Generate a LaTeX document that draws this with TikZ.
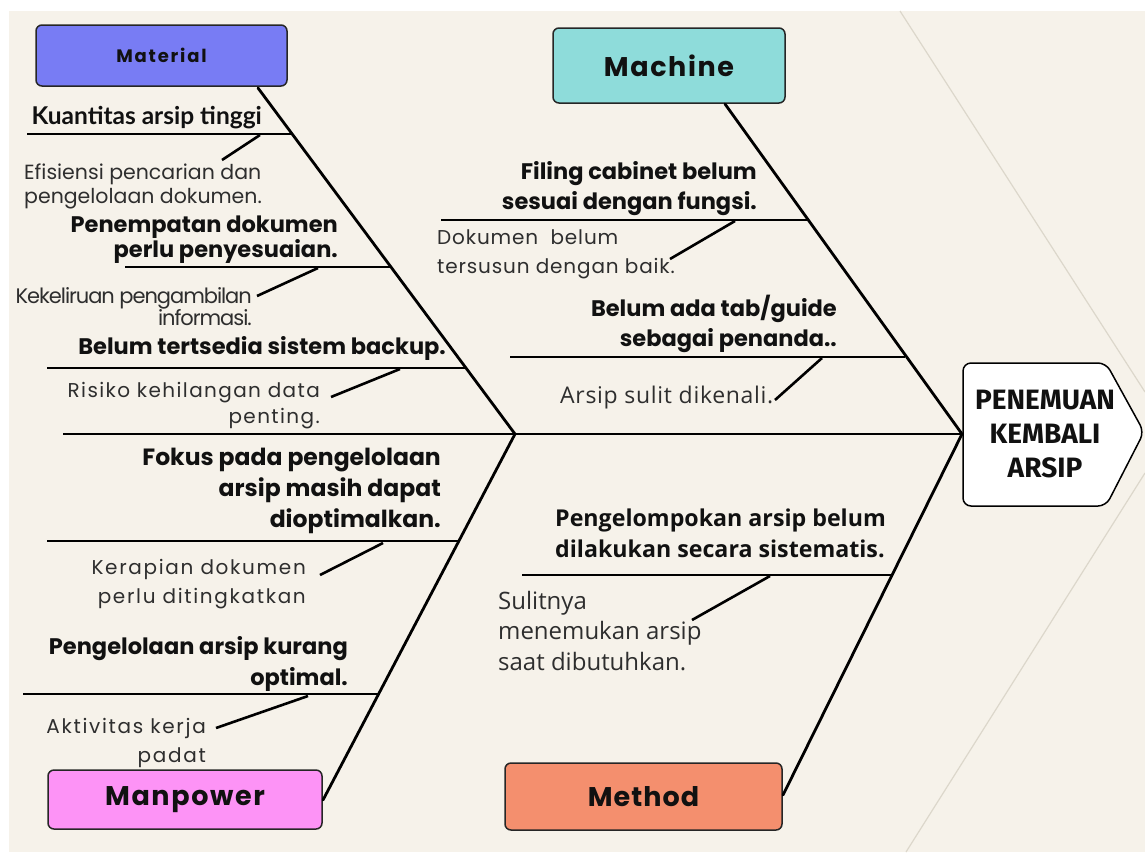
\documentclass[tikz,border=0pt]{standalone}
\usepackage{fontspec}
\setmainfont{Poppins}
\newfontfamily\fira{Fira Sans}
\newfontfamily\lato{Lato}
\newfontfamily\osans{Open Sans}
\usetikzlibrary{calc}
\definecolor{bg}{HTML}{F6F2EA}
\definecolor{matcol}{HTML}{787CF4}
\definecolor{maccol}{HTML}{8EDCDA}
\definecolor{mancol}{HTML}{FD93F6}
\definecolor{metcol}{HTML}{F48F6E}
\definecolor{faint}{HTML}{DCD7CB}
\definecolor{txt}{HTML}{111111}
\definecolor{soft}{HTML}{2E2E2E}
\tikzset{
  catbox/.style={draw=black!85, line width=1.5pt, rounded corners=6pt, text=txt, font=\bfseries},
  bone/.style={line width=2.8pt, line cap=round},
  sub/.style={line width=2.8pt},
  link/.style={line width=2.6pt},
  lbl/.style={inner sep=0pt, text=txt, font=\fontsize{22.5}{30}\selectfont\bfseries},
  cause/.style={inner sep=0pt, text=soft, font=\fontsize{20}{24}\selectfont},
}
\begin{document}
\begin{tikzpicture}[x=1pt,y=-1pt]
\useasboundingbox (0,0) rectangle (1145,852);
\fill[white] (0,0) rectangle (1145,852);
\fill[bg] (9,11) rectangle (1145,852);
% faint background chevron
\coordinate (fa1) at (900,11);
\coordinate (fa2) at (1145,392);
\coordinate (fb1) at (1145,473);
\coordinate (fb2) at (906,852);
\draw[faint, line width=1.2pt] (fa1) -- (fa2);
\draw[faint, line width=1.2pt] (fb1) -- (fb2);

% category boxes
\node[catbox, fill=matcol, minimum width=251pt, minimum height=61pt, font=\fontsize{18}{20}\selectfont\bfseries\addfontfeatures{LetterSpace=10}] (mat) at (161.5,55.5) {Material};
\node[catbox, fill=maccol, minimum width=232pt, minimum height=75pt, font=\fontsize{27}{30}\selectfont\bfseries\addfontfeatures{LetterSpace=6}] (mac) at (669,65.5) {Machine};
\node[catbox, fill=mancol, minimum width=274pt, minimum height=59pt, font=\fontsize{27}{30}\selectfont\bfseries\addfontfeatures{LetterSpace=6}] (man) at (185,799.5) {Manpower};
\node[catbox, fill=metcol, minimum width=277pt, minimum height=67pt, font=\fontsize{27}{30}\selectfont\bfseries\addfontfeatures{LetterSpace=4}] (met) at (643.5,796.5) {Method};

% head
\coordinate (h1) at (963,363);
\coordinate (h2) at (1106,363);
\coordinate (h3) at (1144,432);
\coordinate (h4) at (1106,506);
\coordinate (h5) at (963,506);
\draw[fill=white, line width=1.5pt, rounded corners=8pt] (h1) -- (h2) -- (h3) -- (h4) -- (h5) -- cycle;
\node[inner sep=0pt, align=center, text=txt, font=\fira\fontsize{28}{34}\selectfont\bfseries] (head) at (1045,434) {PENEMUAN\\KEMBALI\\ARSIP};

% spine and main bones
\coordinate (sp0) at (63,434);
\coordinate (J1) at (515,434);
\coordinate (J2) at (962,434);
\coordinate (matB) at (258,88);
\coordinate (manB) at (323,800);
\coordinate (macB) at (725,104);
\coordinate (metB) at (783,795);
\draw[line width=2.4pt] (sp0) -- (J2);
\draw[bone] (matB) -- (J1) -- (manB);
\draw[bone] (macB) -- (J2) -- (metB);

% ---------- Material ----------
\coordinate (a1l) at (27,134);  \coordinate (a1r) at (292,134);
\draw[sub] (a1l) -- (a1r);
\node[lbl, anchor=north east, font=\lato\fontsize{24.5}{30}\selectfont\bfseries] (t1) at (262,106) {Kuantitas arsip tinggi};
\coordinate (k1a) at (260,135); \coordinate (k1b) at (222,160);
\draw[link] (k1a) -- (k1b);
\node[cause, anchor=north west, align=left, font=\fontsize{20.5}{24}\selectfont] (c1) at (24,164) {Efisiensi pencarian dan\\pengelolaan dokumen.};

\coordinate (a2l) at (125,267); \coordinate (a2r) at (391,267);
\draw[sub] (a2l) -- (a2r);
\node[lbl, anchor=north east, align=right, font=\fontsize{22.5}{24}\selectfont\bfseries] (t2) at (338,216) {Penempatan dokumen\\perlu penyesuaian.};
\coordinate (k2a) at (318,268); \coordinate (k2b) at (257,296);
\draw[link] (k2a) -- (k2b);
\node[cause, anchor=north east, align=right, font=\fontsize{21}{22}\selectfont\addfontfeatures{LetterSpace=-5}] (c2) at (252,287) {Kekeliruan pengambilan\\informasi.};

\coordinate (a3l) at (47,368); \coordinate (a3r) at (466,368);
\draw[sub] (a3l) -- (a3r);
\node[lbl, anchor=north east] (t3) at (446,336) {Belum tertsedia sistem backup.};
\coordinate (k3a) at (400,369); \coordinate (k3b) at (331,397);
\draw[link] (k3a) -- (k3b);
\node[cause, anchor=north east, align=right, font=\fontsize{20}{26}\selectfont\addfontfeatures{LetterSpace=7}] (c3) at (320,382) {Risiko kehilangan data\\penting.};

% ---------- Manpower ----------
\coordinate (a4l) at (47,541); \coordinate (a4r) at (459,541);
\draw[sub] (a4l) -- (a4r);
\node[lbl, anchor=north east, align=right, font=\fontsize{23.5}{31}\selectfont\bfseries] (t4) at (441,448) {Fokus pada pengelolaan\\arsip masih dapat\\dioptimalkan.};
\coordinate (k4a) at (383,543); \coordinate (k4b) at (320,575);
\draw[link] (k4a) -- (k4b);
\node[cause, anchor=north east, align=right, font=\fontsize{20}{29}\selectfont\addfontfeatures{LetterSpace=8.4}] (c4) at (306,559) {Kerapian dokumen\\perlu ditingkatkan};

\coordinate (a5l) at (23,694); \coordinate (a5r) at (379,694);
\draw[sub] (a5l) -- (a5r);
\node[lbl, anchor=north east, align=right, font=\fontsize{22.5}{31}\selectfont\bfseries] (t5) at (348,636) {Pengelolaan arsip kurang\\optimal.};
\coordinate (k5a) at (308,696); \coordinate (k5b) at (216,728);
\draw[link] (k5a) -- (k5b);
\node[cause, anchor=north east, align=right, font=\fontsize{20}{29}\selectfont\addfontfeatures{LetterSpace=8.5}] (c5) at (206,718) {Aktivitas kerja\\padat};

% ---------- Machine ----------
\coordinate (a6l) at (441,220); \coordinate (a6r) at (808,220);
\draw[sub] (a6l) -- (a6r);
\node[lbl, anchor=north east, align=right] (t6) at (757,161) {Filing cabinet belum\\sesuai dengan fungsi.};
\coordinate (k6a) at (735,221); \coordinate (k6b) at (670,259);
\draw[link] (k6a) -- (k6b);
\node[cause, anchor=north west, align=left, font=\fontsize{20}{29}\selectfont\addfontfeatures{LetterSpace=4.3}] (c6) at (437,229) {Dokumen~~belum\\tersusun dengan baik.};

\coordinate (a7l) at (510,357); \coordinate (a7r) at (905,357);
\draw[sub] (a7l) -- (a7r);
\node[lbl, anchor=north east, align=right] (t7) at (837,295) {Belum ada tab/guide\\sebagai penanda..};
\coordinate (k7a) at (822,358); \coordinate (k7b) at (775,400);
\draw[link] (k7a) -- (k7b);
\node[cause, anchor=north west, font=\osans\fontsize{23}{26}\selectfont\addfontfeatures{LetterSpace=3}] (c7) at (560,386) {Arsip sulit dikenali.};

% ---------- Method ----------
\coordinate (a8l) at (522,575); \coordinate (a8r) at (891,575);
\draw[sub] (a8l) -- (a8r);
\node[lbl, anchor=north west, align=left, font=\osans\fontsize{23.2}{31}\selectfont\bfseries] (t8) at (555,509) {Pengelompokan arsip belum\\dilakukan secara sistematis.};
\coordinate (k8a) at (770,576); \coordinate (k8b) at (692,620);
\draw[link] (k8a) -- (k8b);
\node[cause, anchor=north west, align=left, font=\osans\fontsize{24}{30.5}\selectfont] (c8) at (498,591) {Sulitnya\\menemukan arsip\\saat dibutuhkan.};
\end{tikzpicture}
\end{document}
